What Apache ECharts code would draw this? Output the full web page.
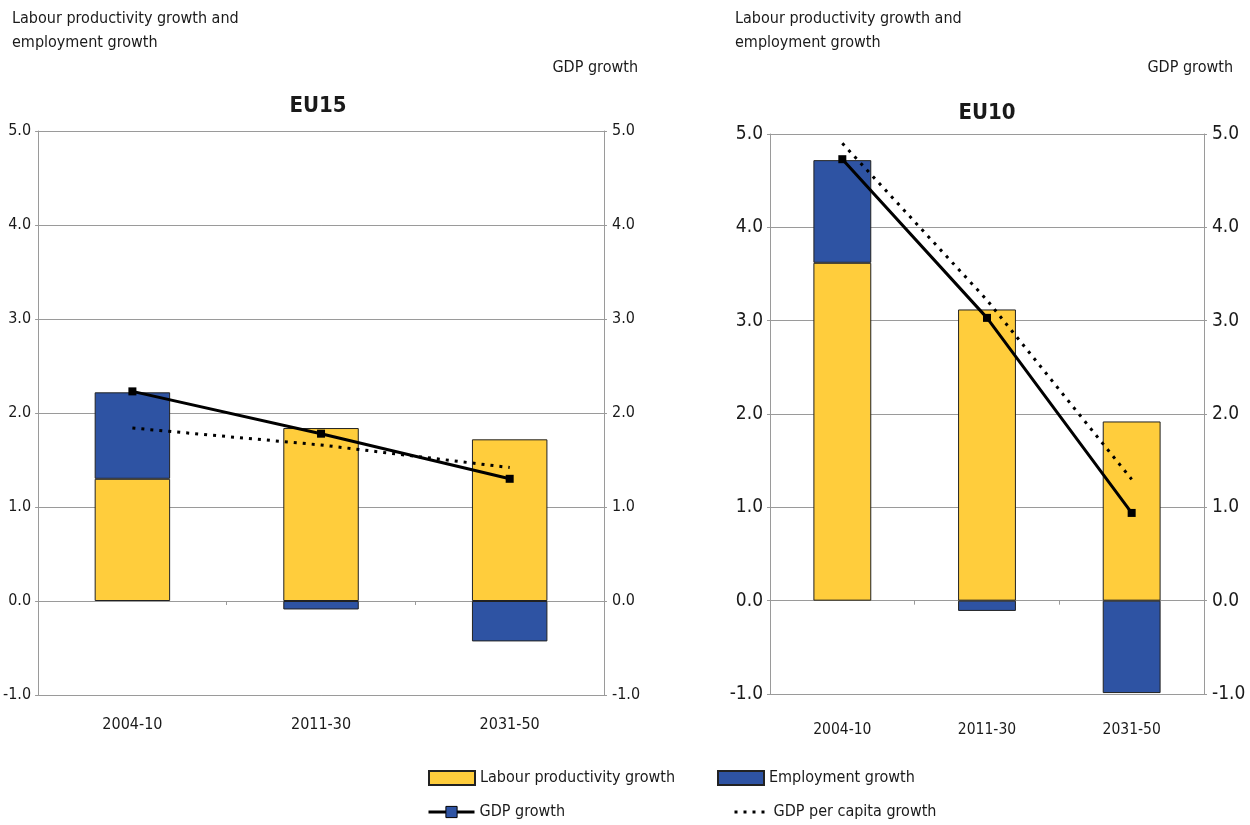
<!DOCTYPE html>
<html>
<head>
<meta charset="utf-8">
<script src="https://cdn.jsdelivr.net/npm/echarts@6/dist/echarts.min.js"></script>
<style>
html,body{margin:0;padding:0;background:#fff;}
#chart{width:1250px;height:825px;}
</style>
</head>
<body>
<div id="chart"></div>
<script>
// ---- Data ----
const categories = ['2004-10', '2011-30', '2031-50'];
const yTicks = [-1, 0, 1, 2, 3, 4, 5];

const eu15Labour = [1.30, 1.84, 1.72];
const eu15Employment = [0.92, -0.09, -0.43];
const eu15Gdp = [2.23, 1.78, 1.30];
const eu15GdpPerCapita = [1.84, 1.66, 1.42];

const eu10Labour = [3.62, 3.12, 1.92];
const eu10Employment = [1.10, -0.11, -0.99];
const eu10Gdp = [4.73, 3.03, 0.94];
const eu10GdpPerCapita = [4.90, 3.22, 1.30];

const panelTitles = ['EU15', 'EU10'];
const leftAxisName = ['Labour productivity growth and', 'employment growth'];
const rightAxisName = 'GDP growth';
const seriesNames = ['Labour productivity growth', 'Employment growth', 'GDP growth', 'GDP per capita growth'];

// ---- Style ----
const FONT = "'DejaVu Sans Condensed', 'DejaVu Sans', sans-serif";
const YELLOW = '#FFCD3C';
const BLUE = '#2E53A3';
const GRID = '#9a9a9a';
const TEXT = '#1a1a1a';

const chart = echarts.init(document.getElementById('chart'), null, {renderer: 'canvas'});

const grids = [
  {left: 37, top: 131, width: 567, height: 564},
  {left: 770, top: 134, width: 434, height: 560}
];
const ySize = [16, 19];
const xSize = [16, 15.5];
const xMargin = [22, 28];

const xAxes = [], yAxes = [], series = [];
grids.forEach((g, i) => {
  xAxes.push({
    type: 'category', gridIndex: i, data: categories, position: 'bottom',
    axisLine: {show: false, onZero: false}, axisTick: {show: false},
    axisLabel: {fontFamily: FONT, fontSize: xSize[i], color: TEXT, margin: xMargin[i]}
  });
  xAxes.push({
    type: 'category', gridIndex: i, data: categories, position: 'bottom',
    axisLine: {show: true, onZero: true, lineStyle: {color: GRID, width: 1}},
    axisTick: {show: true, length: 4, lineStyle: {color: GRID}},
    axisLabel: {show: false}
  });
  const yCommon = {
    type: 'value', gridIndex: i, min: yTicks[0], max: yTicks[yTicks.length - 1], interval: 1,
    axisLine: {show: true, lineStyle: {color: GRID, width: 1}},
    axisTick: {show: true, length: 3, lineStyle: {color: GRID}},
    axisLabel: {fontFamily: FONT, fontSize: ySize[i], color: TEXT, margin: 7,
      formatter: v => v.toFixed(1)}
  };
  yAxes.push(Object.assign({}, yCommon, {position: 'left',
    splitLine: {show: true, lineStyle: {color: GRID, width: 1}}}));
  yAxes.push(Object.assign({}, yCommon, {position: 'right', splitLine: {show: false},
    axisLabel: Object.assign({}, yCommon.axisLabel, {margin: 8})}));
});

const panels = [
  [eu15Labour, eu15Employment, eu15Gdp, eu15GdpPerCapita],
  [eu10Labour, eu10Employment, eu10Gdp, eu10GdpPerCapita]
];
panels.forEach((p, i) => {
  const xi = i * 2, yi = i * 2;
  series.push({
    name: seriesNames[0], type: 'bar', stack: 'p' + i, xAxisIndex: xi, yAxisIndex: yi,
    data: p[0], barWidth: '40%',
    itemStyle: {color: YELLOW, borderColor: '#222', borderWidth: 1}
  });
  series.push({
    name: seriesNames[1], type: 'bar', stack: 'p' + i, xAxisIndex: xi, yAxisIndex: yi,
    data: p[1], barWidth: '40%',
    itemStyle: {color: BLUE, borderColor: '#222', borderWidth: 1}
  });
  series.push({
    name: seriesNames[2], type: 'line', xAxisIndex: xi, yAxisIndex: yi + 1,
    data: p[2], symbol: 'rect', symbolSize: 8, z: 5,
    lineStyle: {color: '#000', width: 3}, itemStyle: {color: '#000'}
  });
  series.push({
    name: seriesNames[3], type: 'line', xAxisIndex: xi, yAxisIndex: yi + 1,
    data: p[3], symbol: 'none', z: 4,
    lineStyle: {color: '#000', width: 3, type: [3, 6]}, itemStyle: {color: '#000'}
  });
});

const legendText = {fontFamily: FONT, fontSize: 16, color: TEXT};
const legends = [
  {data: [seriesNames[0]], left: 428, top: 770, itemWidth: 46, itemHeight: 14, icon: 'rect'},
  {data: [seriesNames[1]], left: 717, top: 770, itemWidth: 46, itemHeight: 14, icon: 'rect'},
  {data: [{name: seriesNames[2], itemStyle: {color: BLUE, borderColor: '#000', borderWidth: 1}}],
    left: 427, top: 804, itemWidth: 46, itemHeight: 14, lineStyle: {width: 3}},
  {data: [{name: seriesNames[3], itemStyle: {opacity: 0}}], left: 733, top: 804,
    itemWidth: 34, itemHeight: 14, lineStyle: {width: 3}}
].map(l => Object.assign({padding: 0, textStyle: legendText, selectedMode: false}, l));

function txt(text, x, y, size, align, bold) {
  return {type: 'text', x: x, y: y, silent: true,
    style: {text: text, fill: TEXT, font: (bold ? 'bold ' : '') + size + 'px ' + FONT,
      textAlign: align, textVerticalAlign: 'middle', align: align, verticalAlign: 'middle'}};
}
const graphics = [
  txt(leftAxisName[0], 12, 19, 16, 'left'),
  txt(leftAxisName[1], 12, 43, 16, 'left'),
  txt(rightAxisName, 638, 68, 16, 'right'),
  txt(panelTitles[0], 318, 106, 22, 'center', true),
  txt(leftAxisName[0], 735, 19, 16, 'left'),
  txt(leftAxisName[1], 735, 43, 16, 'left'),
  txt(rightAxisName, 1233, 68, 16, 'right'),
  txt(panelTitles[1], 987, 113, 22, 'center', true)
];

chart.setOption({
  animation: false,
  backgroundColor: '#fff',
  grid: grids,
  xAxis: xAxes,
  yAxis: yAxes,
  legend: legends,
  graphic: graphics,
  series: series
});
</script>
</body>
</html>
